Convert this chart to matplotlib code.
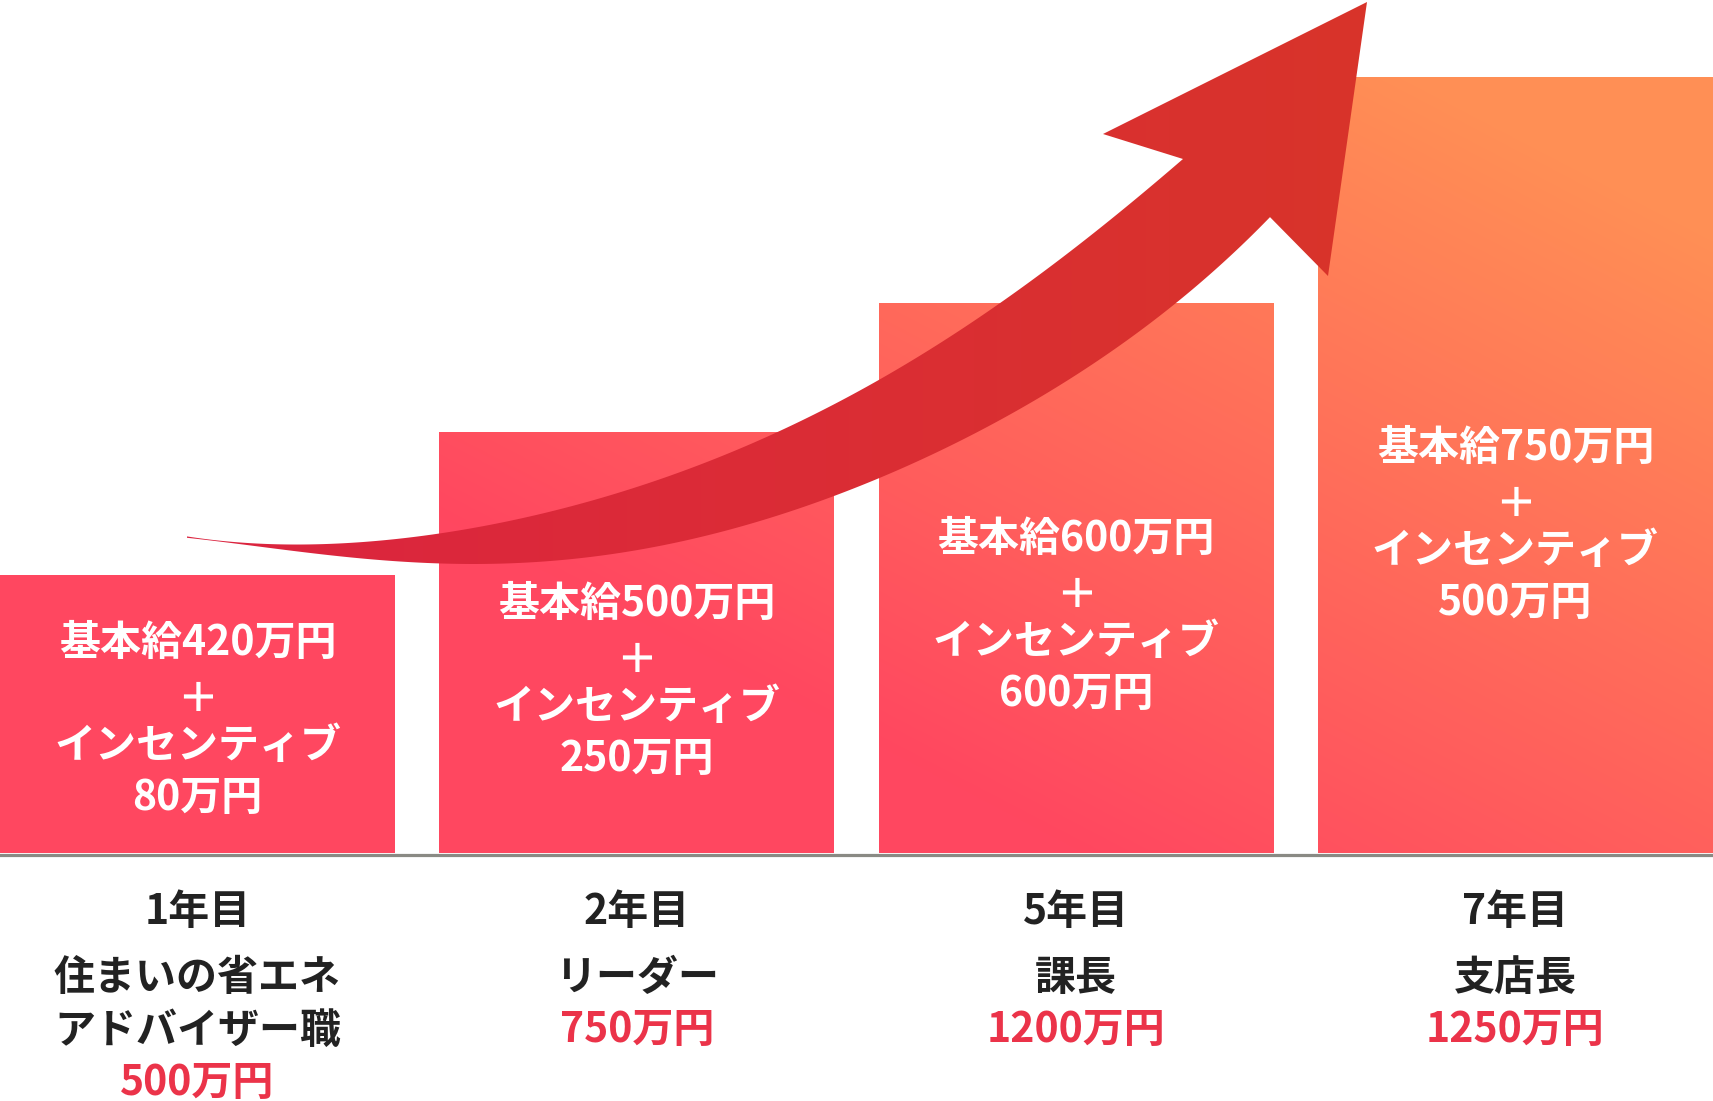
import numpy as np
import matplotlib
matplotlib.use("Agg")
import matplotlib.pyplot as plt
from matplotlib.patches import Polygon
from matplotlib.colors import LinearSegmentedColormap

plt.rcParams['font.family'] = ['Noto Sans CJK JP', 'DejaVu Sans']

# data
years = ["1年目", "2年目", "5年目", "7年目"]
titles = [["住まいの省エネ", "アドバイザー職"], ["リーダー"], ["課長"], ["支店長"]]
totals = ["500万円", "750万円", "1200万円", "1250万円"]
base_pay = [420, 500, 600, 750]
incentive = [80, 250, 600, 500]
bar_heights = [278, 421, 550, 776]   # drawn heights (not to scale of totals)

W, H = 1713, 1101
BASE = 853   # baseline, pixels from top

fig = plt.figure(figsize=(W / 100, H / 100), dpi=100)
ax = fig.add_axes([0, 0, 1, 1])
ax.set_xlim(0, W)
ax.set_ylim(-(H - BASE), BASE)
ax.axis('off')

# bars with a shared diagonal gradient
step = 439.3
width = 395
lefts = [i * step for i in range(len(bar_heights))]
bars = ax.bar(lefts, bar_heights, width=width, align='edge', color='none', edgecolor='none')

bar_cmap = LinearSegmentedColormap.from_list("bars", ["#FF4760", "#FF8F55"])
gx, gy = np.meshgrid(np.linspace(0, W, 400), np.linspace(0, BASE, 200))
t = np.clip(0.00105 * gy + 0.00055 * gx - 0.59, 0, 1)
for b in bars:
    im = ax.imshow(t, cmap=bar_cmap, vmin=0, vmax=1, extent=(0, W, 0, BASE),
                   origin='lower', aspect='auto', zorder=1, interpolation='bilinear')
    im.set_clip_path(b)

ax.axhline(-2, color='#8a8a84', lw=2.3, zorder=3)

# arrow outline (image pixel coords), edges smoothed with a polynomial fit
upper = [(187, 537), (250, 542), (350, 543), (437, 535), (630, 488), (803, 420),
         (880, 380), (980, 317), (1080, 243), (1147, 190), (1183, 159)]
lower = [(187, 537), (250, 547), (350, 557), (437, 562), (550, 562), (655, 546),
         (765, 522), (840, 492), (980, 430), (1080, 373), (1180, 300), (1247, 240), (1270, 217)]
head = [(1103, 134), (1367, 2), (1328, 276)]


def edge(pts, n=300):
    p = np.asarray(pts, float)
    coef = np.polyfit(p[:, 0], p[:, 1], 5)
    xs = np.linspace(p[0, 0], p[-1, 0], n)
    return np.column_stack([xs, np.polyval(coef, xs)])


outline = np.vstack([edge(upper), head, edge(lower)[::-1]])
outline[:, 1] = BASE - outline[:, 1]
arrow = Polygon(outline, closed=True, facecolor='none', edgecolor='none')
ax.add_patch(arrow)
arrow_cmap = LinearSegmentedColormap.from_list("arrow", ["#DC2440", "#DB2C36", "#D8342A"])
ax_grad = np.tile(np.linspace(0, 1, 300), (2, 1))
aim = ax.imshow(ax_grad, cmap=arrow_cmap, extent=(180, 1370, BASE - 580, BASE),
                origin='lower', aspect='auto', zorder=4, interpolation='bilinear')
aim.set_clip_path(arrow)

# text inside bars
first_line = [210, 249, 314, 405]
line_step = 51.7
centers = [l + width / 2 for l in lefts]
for cx, y0, bp, inc in zip(centers, first_line, base_pay, incentive):
    lines = [f"基本給{bp}万円", "＋", "インセンティブ", f"{inc}万円"]
    for k, s in enumerate(lines):
        dy = -5 if s == "＋" else 0
        ax.text(cx, y0 - k * line_step + dy, s, ha='center', va='center', color='white',
                fontsize=29.5, fontweight='bold', zorder=5)

# labels under the baseline
for cx, yr, ttl, tot in zip(centers, years, titles, totals):
    ax.text(cx, -59, yr, ha='center', va='center', color='#222222',
            fontsize=29.5, fontweight='bold')
    y = -125
    for s in ttl:
        ax.text(cx, y, s, ha='center', va='center', color='#222222',
                fontsize=29.5, fontweight='bold')
        y -= 53
    ax.text(cx, y + 1, tot, ha='center', va='center', color='#EB3349',
            fontsize=29.5, fontweight='bold')

fig.savefig("out.png", dpi=100, facecolor='white')
